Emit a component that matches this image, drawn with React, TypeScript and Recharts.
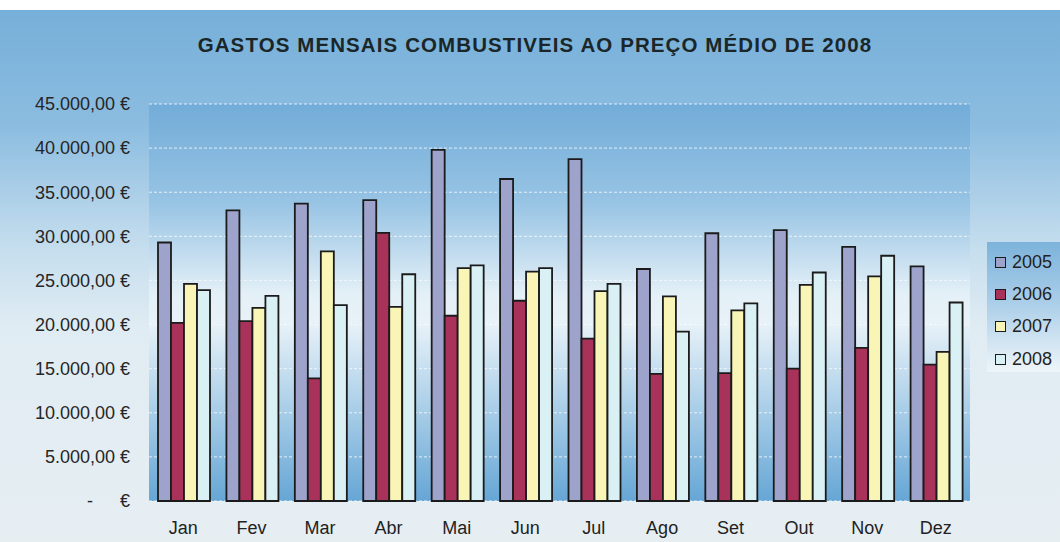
import React from "react";
import { BarChart, Bar, XAxis, YAxis, CartesianGrid, Legend } from "recharts";

const months = ["Jan", "Fev", "Mar", "Abr", "Mai", "Jun", "Jul", "Ago", "Set", "Out", "Nov", "Dez"];
const y2005 = [29300, 32950, 33700, 34100, 39800, 36500, 38750, 26300, 30350, 30700, 28800, 26600];
const y2006 = [20200, 20400, 13900, 30400, 21000, 22700, 18400, 14400, 14500, 15000, 17350, 15450];
const y2007 = [24600, 21900, 28300, 22000, 26400, 26000, 23800, 23200, 21600, 24500, 25450, 16900];
const y2008 = [23900, 23250, 22200, 25700, 26700, 26400, 24600, 19200, 22400, 25900, 27800, 22500];
const yTicks = [0, 5000, 10000, 15000, 20000, 25000, 30000, 35000, 40000, 45000];

const series = [
  { key: "2005", color: "#9ea3cc" },
  { key: "2006", color: "#a8325a" },
  { key: "2007", color: "#f8f5b6" },
  { key: "2008", color: "#d9f0f5" },
];

const data = months.map((m, i) => ({
  name: m,
  "2005": y2005[i],
  "2006": y2006[i],
  "2007": y2007[i],
  "2008": y2008[i],
}));

const FONT = "'Liberation Sans', Arial, sans-serif";

const fmt = (v: number) =>
  v.toFixed(0).replace(/\B(?=(\d{3})+(?!\d))/g, ".") + ",00 €";

function YTick(props: any) {
  const { x, y, payload } = props;
  if (payload.value === 0) {
    return (
      <g fontFamily={FONT} fontSize={18} fill="#262626">
        <text x={x - 40} y={y} dy="0.35em" textAnchor="middle">-</text>
        <text x={x} y={y} dy="0.35em" textAnchor="end">€</text>
      </g>
    );
  }
  return (
    <text x={x} y={y} dy="0.35em" textAnchor="end" fontFamily={FONT} fontSize={18} fill="#262626">
      {fmt(payload.value)}
    </text>
  );
}

function LegendBox() {
  return (
    <div
      style={{
        width: 73,
        height: 130,
        background: "linear-gradient(to bottom, #7db3db 0%, #a9cde8 45%, #eef5f9 100%)",
        fontFamily: FONT,
        fontSize: 18,
        color: "#222",
        paddingTop: 4,
        boxSizing: "border-box",
      }}
    >
      {series.map((s) => (
        <div key={s.key} style={{ display: "flex", alignItems: "center", height: 32.3 }}>
          <span
            style={{
              display: "inline-block",
              width: 9,
              height: 9,
              background: s.color,
              border: "1.5px solid #1c1c1c",
              marginLeft: 8,
              marginRight: 6,
            }}
          />
          <span>{s.key}</span>
        </div>
      ))}
    </div>
  );
}

export default function App() {
  return (
    <div style={{ position: "absolute", left: 0, top: 0, width: 1060, height: 542, background: "#ffffff" }}>
      <div
        style={{
          position: "absolute",
          left: 0,
          top: 10,
          width: 1060,
          height: 532,
          background:
            "linear-gradient(to bottom, #76afd9 0%, #8cbde0 22%, #c6deee 45%, #e0ecf3 60%, #e6eef2 100%)",
        }}
      />
      <div
        style={{
          position: "absolute",
          left: 149,
          top: 104,
          width: 821,
          height: 397,
          background:
            "linear-gradient(to bottom, #72acd8 0%, #98c4e4 25%, #e4f0f7 48%, #e8f2f8 55%, #a6cce7 78%, #66a6d5 100%)",
        }}
      />
      <div
        style={{
          position: "absolute",
          left: 0,
          top: 33,
          width: 1070,
          textAlign: "center",
          fontFamily: FONT,
          fontWeight: "bold",
          fontSize: 20.5,
          letterSpacing: 1.1,
          color: "#1a2628",
        }}
      >
        GASTOS MENSAIS COMBUSTIVEIS AO PREÇO MÉDIO DE 2008
      </div>
      <div style={{ position: "absolute", left: 0, top: 0 }}>
        <BarChart
          width={1060}
          height={542}
          data={data}
          margin={{ top: 104, right: 90, bottom: 11, left: 12 }}
          barCategoryGap={9}
          barGap={0}
        >
          <CartesianGrid vertical={false} stroke="#f4f8fb" strokeOpacity={0.85} strokeDasharray="3 2" />
          <XAxis
            dataKey="name"
            height={30}
            axisLine={false}
            tickLine={false}
            tickSize={0}
            tickMargin={20}
            tick={{ fill: "#222", fontSize: 18, fontFamily: FONT }}
            interval={0}
          />
          <YAxis
            width={137}
            domain={[0, 45000]}
            ticks={yTicks}
            axisLine={false}
            tickLine={false}
            tickSize={0}
            tickMargin={19}
            tick={<YTick />}
            interval={0}
          />
          <Legend
            layout="horizontal"
            verticalAlign="middle"
            align="center"
            content={<LegendBox />}
            wrapperStyle={{ position: "absolute", left: 987, top: 242, width: 73, height: 130 }}
          />
          {series.map((s) => (
            <Bar
              key={s.key}
              dataKey={s.key}
              fill={s.color}
              stroke="#1b1b1b"
              strokeWidth={1.8}
              isAnimationActive={false}
            />
          ))}
        </BarChart>
      </div>
    </div>
  );
}
